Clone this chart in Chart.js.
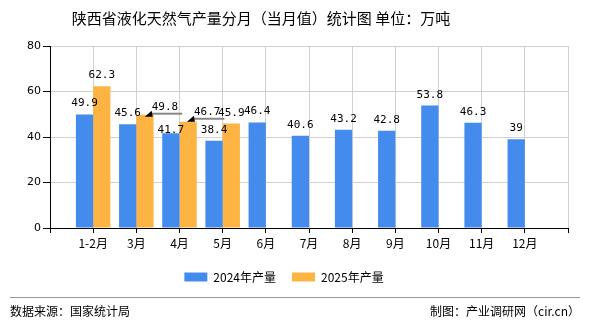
<!doctype html>
<html>
<head>
<meta charset="utf-8">
<title>陕西省液化天然气产量分月（当月值）统计图</title>
<script src="https://cdn.jsdelivr.net/npm/chart.js@4.4.1/dist/chart.umd.min.js"></script>
<style>
	body { margin: 0; background: #fff; }
	#wrap { position: relative; width: 590px; height: 330px; font-family: "Noto Sans CJK SC", sans-serif; color: #000; }
	#title { position: absolute; left: 0; top: 8px; width: 522px; text-align: center; font-size: 15px; line-height: 20px; white-space: pre; }
	#foot { position: absolute; left: 10px; top: 297px; width: 570px; height: 26px; border-top: 1px solid #999; font-size: 12px; line-height: 26px; }
	#foot .r { position: absolute; right: 0; top: 0; }
	canvas { position: absolute; left: 0; top: 0; }
</style>
</head>
<body>
<div id="wrap">
	<canvas id="chart" width="590" height="330"></canvas>
	<div id="title">陕西省液化天然气产量分月（当月值）统计图 单位：万吨</div>
	<div id="foot"><span>数据来源：国家统计局</span><span class="r">制图：产业调研网（cir.cn）</span></div>
</div>
<script>
	var months = ['1-2月', '3月', '4月', '5月', '6月', '7月', '8月', '9月', '10月', '11月', '12月'];
	var output2024 = [49.9, 45.6, 41.7, 38.4, 46.4, 40.6, 43.2, 42.8, 53.8, 46.3, 39];
	var output2025 = [62.3, 49.8, 46.7, 45.9];
	var yTicks = [0, 20, 40, 60, 80];

	// labels that were moved off their bar in the original, keyed "dataset:month"
	var labelShift = {
		'0:2': { dx: 0, dy: 8 },
		'1:1': { dx: 20, dy: 3, arrow: true },
		'1:2': { dx: 19, dy: 1, arrow: true }
	};

	// empty slot at each end so the months sit one step in from the axes
	var labels = [''].concat(months, ['']);
	function pad(arr) {
		var out = [null];
		for (var i = 0; i < months.length; i++) {
			out.push(i < arr.length ? arr[i] : null);
		}
		out.push(null);
		return out;
	}

	var barLabels = {
		id: 'barLabels',
		afterDatasetsDraw: function(chart) {
			var ctx = chart.ctx;
			ctx.save();
			ctx.font = '11px "DejaVu Sans Mono", monospace';
			ctx.fillStyle = '#000';
			ctx.textAlign = 'center';
			ctx.textBaseline = 'alphabetic';
			chart.data.datasets.forEach(function(ds, di) {
				chart.getDatasetMeta(di).data.forEach(function(bar, i) {
					var v = ds.data[i];
					if (v === null || v === undefined) return;
					var s = labelShift[di + ':' + (i - 1)] || { dx: 0, dy: 0 };
					var x = bar.x + s.dx;
					var y = bar.y - 8 + s.dy;
					var txt = String(v);
					ctx.fillText(txt, x, y);
					if (s.arrow) {
						var w = ctx.measureText(txt).width;
						var left = x - w / 2;
						ctx.strokeStyle = '#888';
						ctx.lineWidth = 2;
						ctx.beginPath();
						ctx.moveTo(left, y + 4);
						ctx.lineTo(left + w + 4, y + 4);
						ctx.stroke();
						ctx.beginPath();
						ctx.moveTo(left - 7, y + 7);
						ctx.lineTo(left, y + 1);
						ctx.lineTo(left + 1, y + 7);
						ctx.closePath();
						ctx.fill();
					}
				});
			});
			ctx.restore();
		}
	};

	var config = {
		type: 'bar',
		data: {
			labels: labels,
			datasets: [{
				label: '2024年产量',
				data: pad(output2024),
				backgroundColor: '#438cee',
				borderWidth: 0,
				barPercentage: 1,
				categoryPercentage: 0.8
			}, {
				label: '2025年产量',
				data: pad(output2025),
				backgroundColor: '#fdb443',
				borderWidth: 0,
				barPercentage: 1,
				categoryPercentage: 0.8
			}]
		},
		options: {
			responsive: false,
			animation: false,
			layout: {
				padding: { left: 0, right: 22, top: 46, bottom: 37 }
			},
			plugins: {
				title: { display: false },
				tooltip: { enabled: false },
				legend: {
					position: 'bottom',
					labels: {
						boxWidth: 23,
						boxHeight: 9,
						padding: 16,
						color: '#000',
						font: { size: 12, family: '"Noto Sans CJK SC", sans-serif' }
					}
				}
			},
			scales: {
				x: {
					offset: false,
					grid: { offset: false, color: '#d0d0d0', tickColor: '#000', tickLength: 5 },
					border: { color: '#000' },
					ticks: {
						color: '#000',
						padding: 3,
						maxRotation: 0,
						autoSkip: false,
						font: { size: 12, family: '"Noto Sans CJK SC", sans-serif' }
					},
					afterFit: function(s) { s.height = 27; }
				},
				y: {
					min: yTicks[0],
					max: yTicks[yTicks.length - 1],
					grid: { color: '#d0d0d0', tickColor: '#000', tickLength: 7 },
					border: { color: '#000' },
					afterBuildTicks: function(s) {
						s.ticks = yTicks.map(function(v) { return { value: v }; });
					},
					ticks: {
						color: '#000',
						padding: 2,
						font: { size: 11, family: '"DejaVu Sans", sans-serif' }
					},
					afterFit: function(s) { s.width = 50; }
				}
			}
		},
		plugins: [barLabels]
	};

	window.onload = function() {
		var ctx = document.getElementById('chart').getContext('2d');
		window.myBar = new Chart(ctx, config);
	};
</script>
</body>
</html>
